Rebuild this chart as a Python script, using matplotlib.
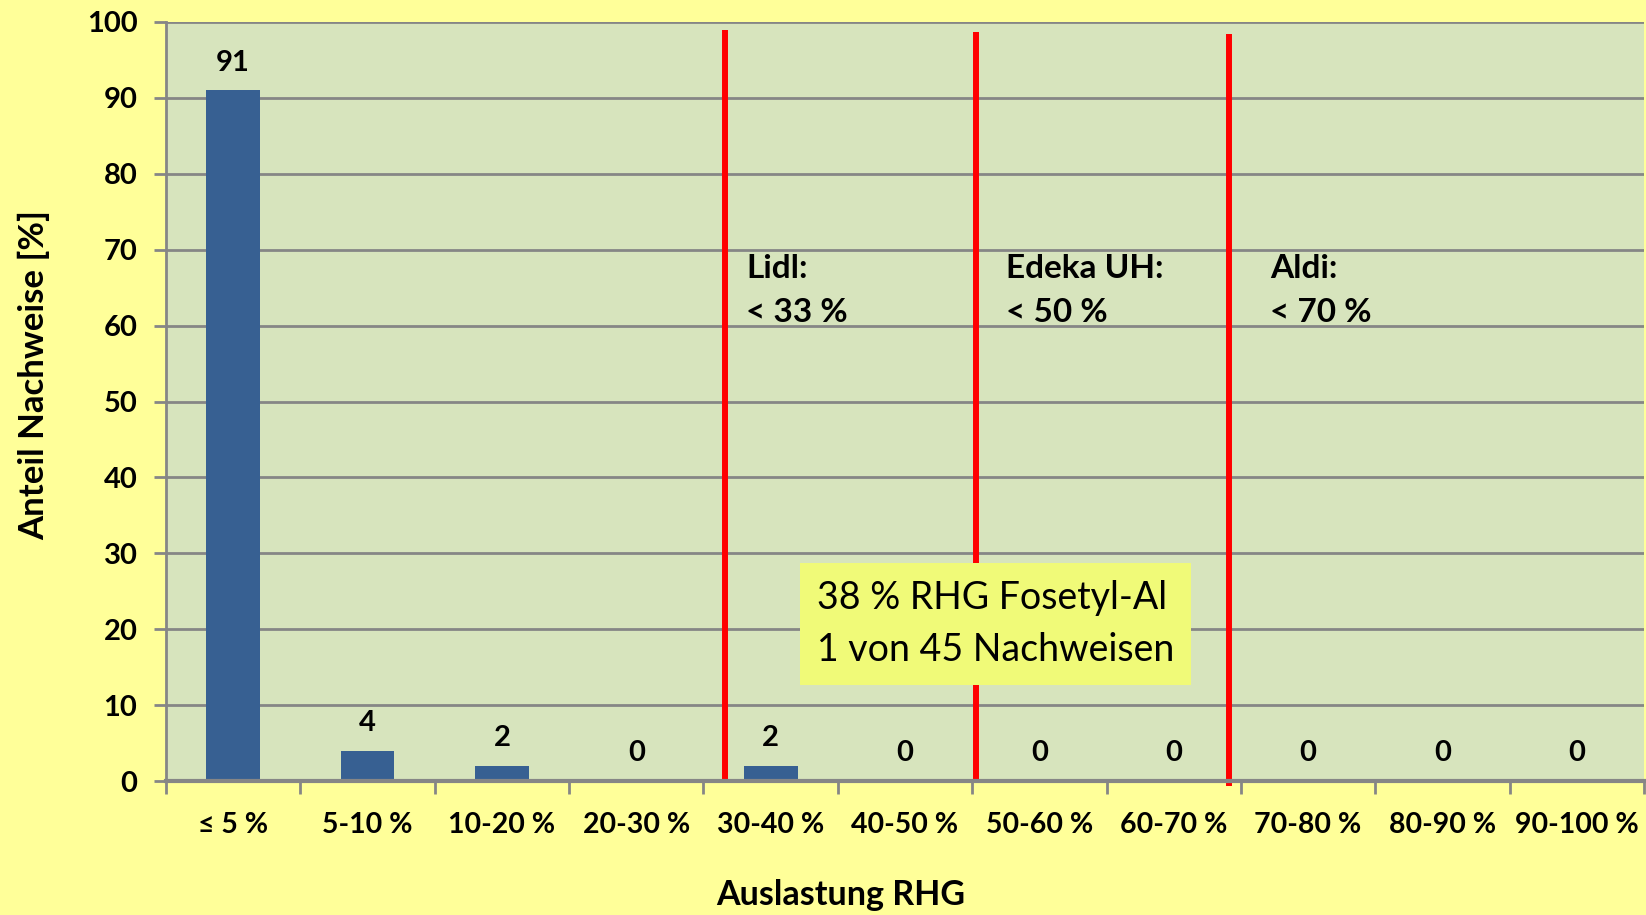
import matplotlib
matplotlib.use('Agg')
import matplotlib.pyplot as plt
import numpy as np

plt.rcParams['font.family'] = ['Lato', 'DejaVu Sans']

# data
categories = ['≤ 5 %', '5-10 %', '10-20 %', '20-30 %', '30-40 %', '40-50 %',
              '50-60 %', '60-70 %', '70-80 %', '80-90 %', '90-100 %']
shares = [91, 4, 2, 0, 2, 0, 0, 0, 0, 0, 0]
limit_labels = ['Lidl:\n< 33 %', 'Edeka UH:\n< 50 %', 'Aldi:\n< 70 %']
note_text = '38 % RHG Fosetyl-Al\n1 von 45 Nachweisen'

# layout of the red limit lines (category-axis units) and their labels
limit_x = [3.66, 5.53, 7.41]
limit_top = [98.9, 98.7, 98.4]
limit_bottom = [0.1, -0.1, -0.6]
limit_text_x = [3.82, 5.75, 7.72]

W, H = 1646, 915
fig = plt.figure(figsize=(W / 100, H / 100), dpi=100)
fig.patch.set_facecolor('#FFFF99')

left, right, top, bottom = 166, 1644, 22, 781
ax = fig.add_axes([left / W, 1 - bottom / H, (right - left) / W, (bottom - top) / H])
ax.set_facecolor('#D7E4BD')

ind = np.arange(len(categories))
bars = ax.bar(ind, shares, 0.4, color='#376092', zorder=3)

ax.set_xlim(-0.5, len(categories) - 0.5)
ax.set_ylim(0, 100)

# grid + axes styling
grey = '#868686'
ax.set_yticks(np.arange(0, 101, 10))
ax.yaxis.grid(True, color=grey, linewidth=2, zorder=1)
for s in ['top', 'right']:
    ax.spines[s].set_visible(False)
ax.spines['left'].set_color(grey)
ax.spines['bottom'].set_color(grey)
ax.spines['left'].set_linewidth(2)
ax.spines['bottom'].set_linewidth(3)
ax.spines['bottom'].set_zorder(5)

ax.tick_params(axis='y', length=8.6, width=2, color=grey, pad=12,
               labelsize=21)
for lab in ax.get_yticklabels():
    lab.set_fontweight('bold')

ax.set_xticks(ind)
ax.set_xticklabels(categories, fontsize=20.5, fontweight='bold')
ax.set_xticks(np.arange(-0.5, len(categories)), minor=True)
ax.tick_params(axis='x', which='major', length=0, pad=22)
ax.tick_params(axis='x', which='minor', length=9, width=2, color=grey)

# value labels
for rect, v in zip(bars, shares):
    ax.annotate('%d' % v, (rect.get_x() + rect.get_width() / 2, v),
                xytext=(0, 20), textcoords='offset points',
                ha='center', va='center', fontsize=21, fontweight='bold')

# red limit lines with labels
ax.vlines(limit_x, limit_bottom, limit_top, color='#FF0000', linewidth=4.3,
          zorder=4, clip_on=False)
for xt, txt in zip(limit_text_x, limit_labels):
    ax.text(xt, 64.6, txt, ha='left', va='center', fontsize=24,
            fontweight='bold', linespacing=1.6, zorder=5)

ax.text(4.345, 20.7, note_text, ha='left', va='center', fontsize=27,
        linespacing=1.55, zorder=6,
        bbox=dict(boxstyle='square,pad=0.45', fc='#F0FA78', ec='none'))

fig.text(34 / W, 1 - 375 / H, 'Anteil Nachweise [%]', rotation=90,
         ha='center', va='center', fontsize=25, fontweight='bold')
fig.text(841 / W, 1 - 895 / H, 'Auslastung RHG',
         ha='center', va='center', fontsize=24.5, fontweight='bold')

plt.savefig('out.png', dpi=100, facecolor=fig.get_facecolor())
